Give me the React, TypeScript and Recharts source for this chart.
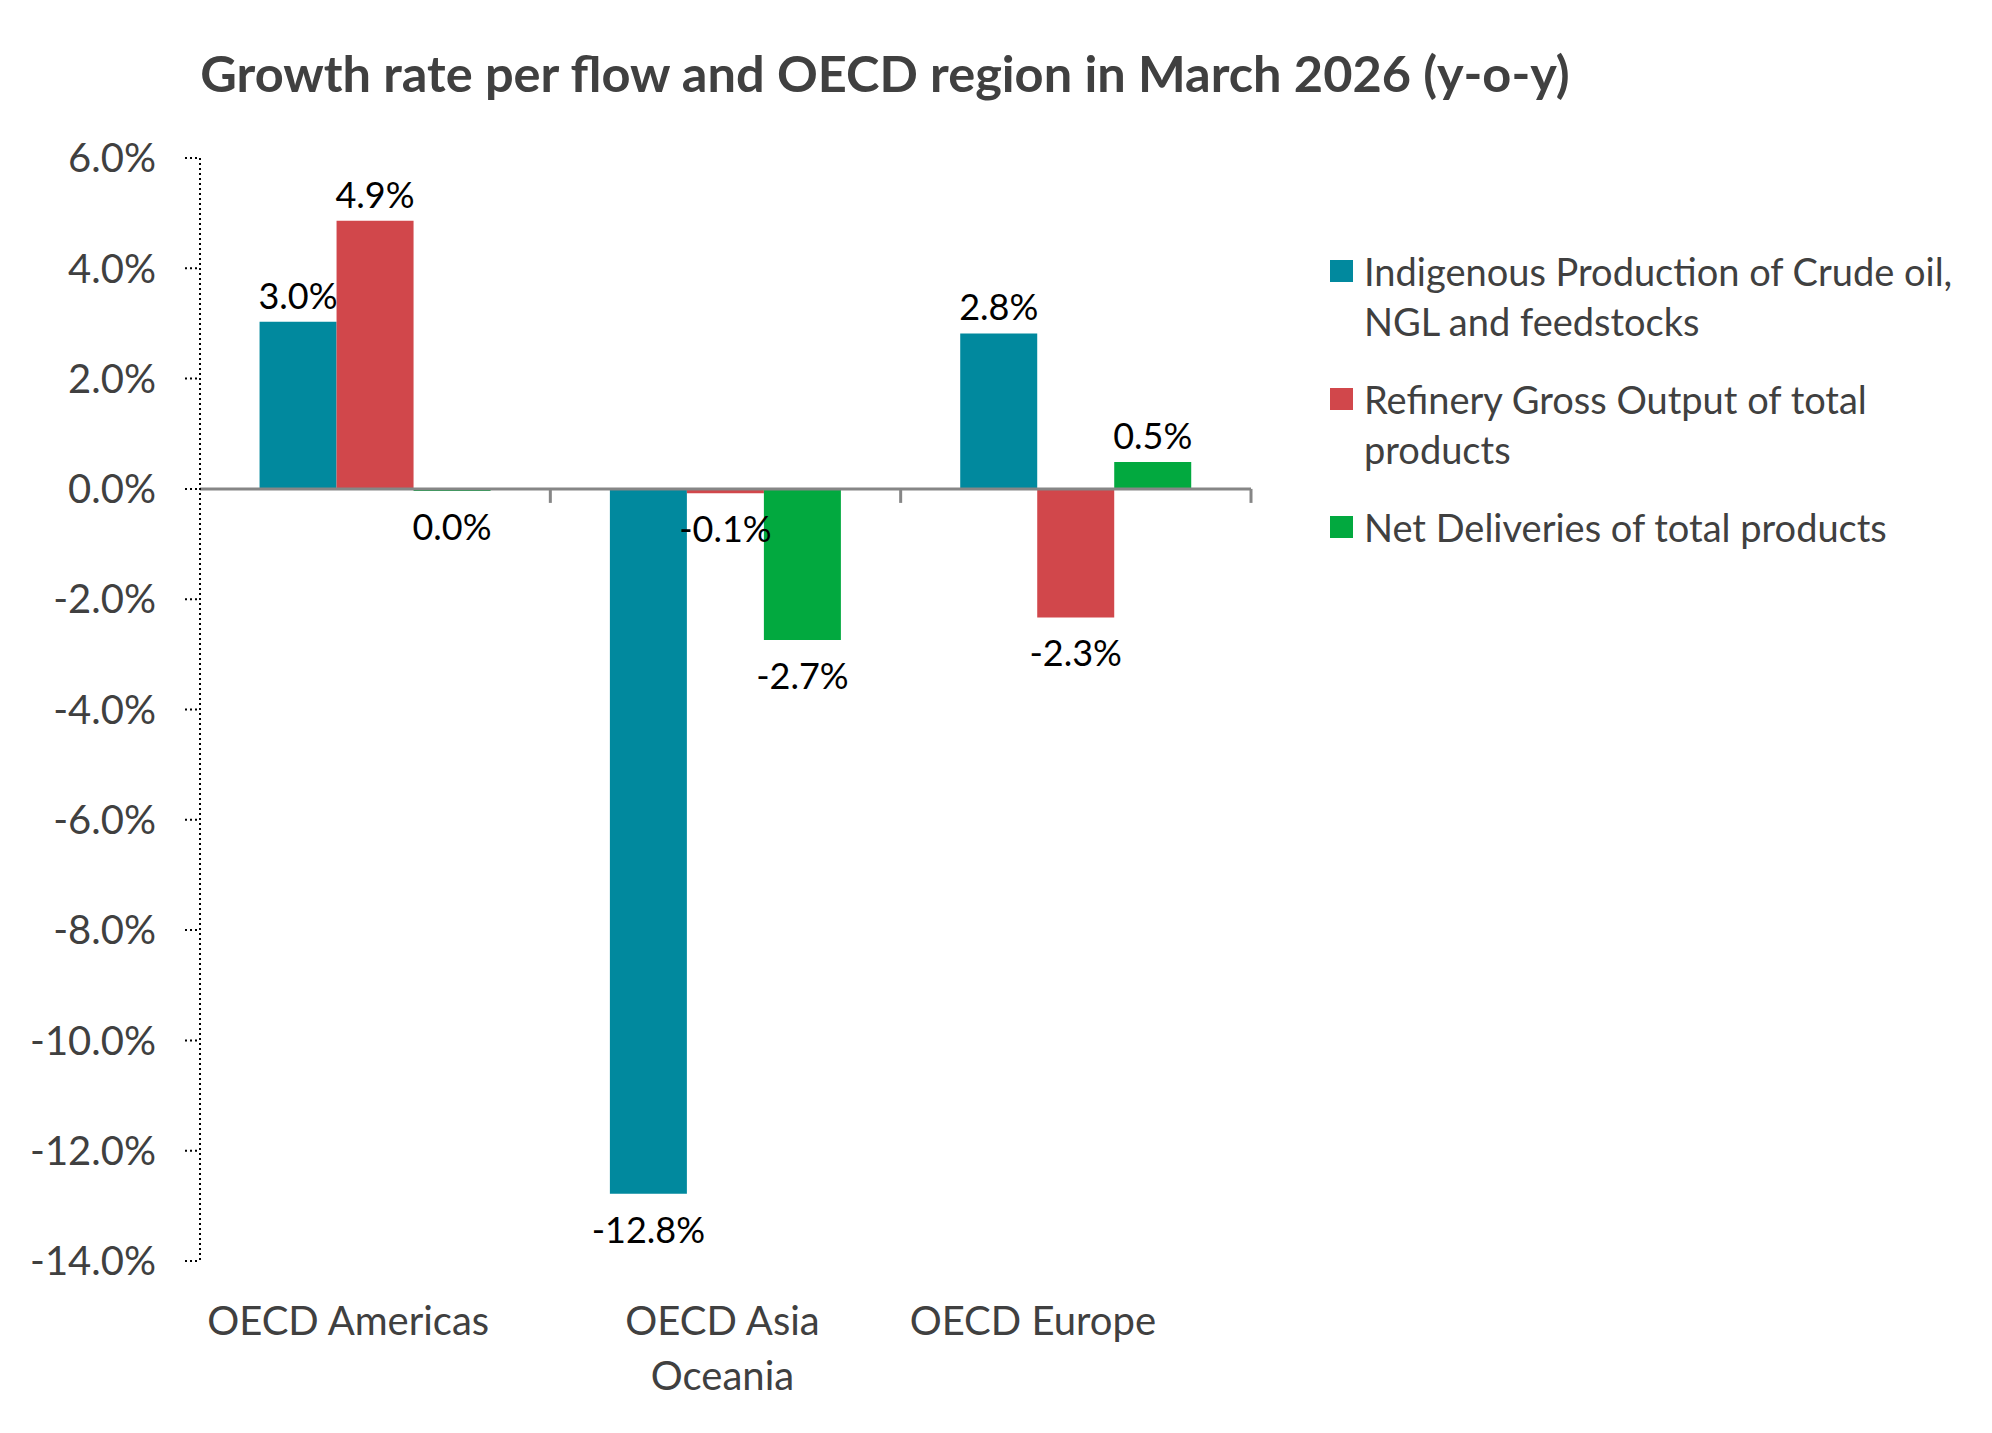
import React from "react";
import { BarChart, Bar, XAxis, YAxis, Legend, LabelList, ReferenceLine } from "recharts";

// growth rates in %
const regions = ["OECD Americas", "OECD Asia Oceania", "OECD Europe"];
const seriesNames = [
  "Indigenous Production of Crude oil, NGL and feedstocks",
  "Refinery Gross Output of total products",
  "Net Deliveries of total products",
];
const indigenousProduction = [3.03, -12.78, 2.82];
const refineryOutput = [4.86, -0.08, -2.33];
const netDeliveries = [-0.04, -2.74, 0.49];
const yTicks = [6, 4, 2, 0, -2, -4, -6, -8, -10, -12, -14];

const FONT = "Lato, 'Open Sans', sans-serif";
const TEXT = "#404040";
const COLORS = ["#01899E", "#D1474B", "#02A93F"];
const KEYS = ["production", "refinery", "deliveries"];
// the source sets its category labels a little left of the band centres
const TICK_NUDGE = [-27, -3, -43];

const data = regions.map((region, i) => ({
  region,
  production: indigenousProduction[i],
  refinery: refineryOutput[i],
  deliveries: netDeliveries[i],
}));

const fmt = (v: number) => `${(Math.round(v * 10) / 10).toFixed(1)}%`;

const ValueLabel = (props: any) => {
  const { x, y, width, height, value } = props;
  const top = Math.min(y, y + height);
  const bottom = Math.max(y, y + height);
  const neg = value < 0;
  return (
    <text
      x={x + width / 2}
      y={neg ? bottom + 49 : top - 13}
      textAnchor="middle"
      fill="#000"
      fontSize={36}
      fontFamily={FONT}
    >
      {fmt(value)}
    </text>
  );
};

const RegionTick = (props: any) => {
  const { x, y, payload, index } = props;
  const words = String(payload.value).split(" ");
  const lines = words.length > 2
    ? [words.slice(0, 2).join(" "), words.slice(2).join(" ")]
    : [payload.value];
  const cx = x + (TICK_NUDGE[index] ?? 0);
  return (
    <text x={cx} y={y + 74} textAnchor="middle" fill={TEXT} fontSize={40} fontFamily={FONT}>
      {lines.map((l, i) => (
        <tspan key={i} x={cx} dy={i === 0 ? 0 : 55}>{l}</tspan>
      ))}
    </text>
  );
};

// zero line doubles as the category axis, with marks between regions
const ZeroAxis = (props: any) => {
  const { x1, y1, x2 } = props;
  const step = (x2 - x1) / regions.length;
  return (
    <g>
      <line x1={x1} y1={y1} x2={x2} y2={y1} stroke="#868686" strokeWidth={3} />
      {regions.map((r, i) => (
        <line key={r} x1={x1 + step * (i + 1)} x2={x1 + step * (i + 1)} y1={y1} y2={y1 + 14}
              stroke="#868686" strokeWidth={3} />
      ))}
    </g>
  );
};

const LegendContent = ({ payload }: any) => {
  const items = [...(payload || [])].sort(
    (a: any, b: any) => seriesNames.indexOf(a.value) - seriesNames.indexOf(b.value)
  );
  return (
    <div style={{ fontFamily: FONT, fontSize: 38, color: TEXT, lineHeight: "50px" }}>
      {items.map((p: any) => (
        <div key={p.value} style={{ display: "flex", alignItems: "flex-start", marginBottom: 28 }}>
          <span style={{ width: 23, height: 22, background: p.color, marginTop: 14, marginRight: 11, flexShrink: 0 }} />
          <span>{p.value}</span>
        </div>
      ))}
    </div>
  );
};

export default function App() {
  return (
    <div style={{ position: "relative", width: 1976, height: 1417, background: "#fff" }}>
      <BarChart
        width={1976}
        height={1417}
        data={data}
        margin={{ top: 150, right: 733, bottom: 64, left: 0 }}
        barCategoryGap="17%"
        barGap={0}
      >
        <XAxis dataKey="region" axisLine={false} tickLine={false} tickSize={0} tickMargin={0}
               height={100} interval={0} tick={<RegionTick />} />
        <YAxis type="number" domain={[-14, 6]} ticks={yTicks} interval={0} width={192}
               tickFormatter={(v: number) => `${v.toFixed(1)}%`}
               tick={{ fill: TEXT, fontSize: 40, fontFamily: FONT }}
               tickSize={15} tickMargin={29}
               axisLine={{ stroke: "#000", strokeWidth: 2, strokeDasharray: "2 3" }}
               tickLine={{ stroke: "#000", strokeWidth: 2, strokeDasharray: "2 3" }} />
        <Legend layout="vertical" align="center" verticalAlign="middle" content={<LegendContent />}
                wrapperStyle={{ left: 1322, top: 238, width: 644 }} />
        {KEYS.map((k, i) => (
          <Bar key={k} dataKey={k} name={seriesNames[i]} fill={COLORS[i]} isAnimationActive={false}>
            <LabelList dataKey={k} content={<ValueLabel />} />
          </Bar>
        ))}
        <ReferenceLine y={0} shape={(p: any) => <ZeroAxis {...p} />} />
      </BarChart>
      <svg width={1976} height={130} style={{ position: "absolute", left: 0, top: 0, pointerEvents: "none" }}>
        <text x={877} y={84} textAnchor="middle" fill={TEXT} fontSize={50.5} fontWeight="bold" fontFamily={FONT}>
          Growth rate per flow and OECD region in March 2026 (y-o-y)
        </text>
      </svg>
    </div>
  );
}
